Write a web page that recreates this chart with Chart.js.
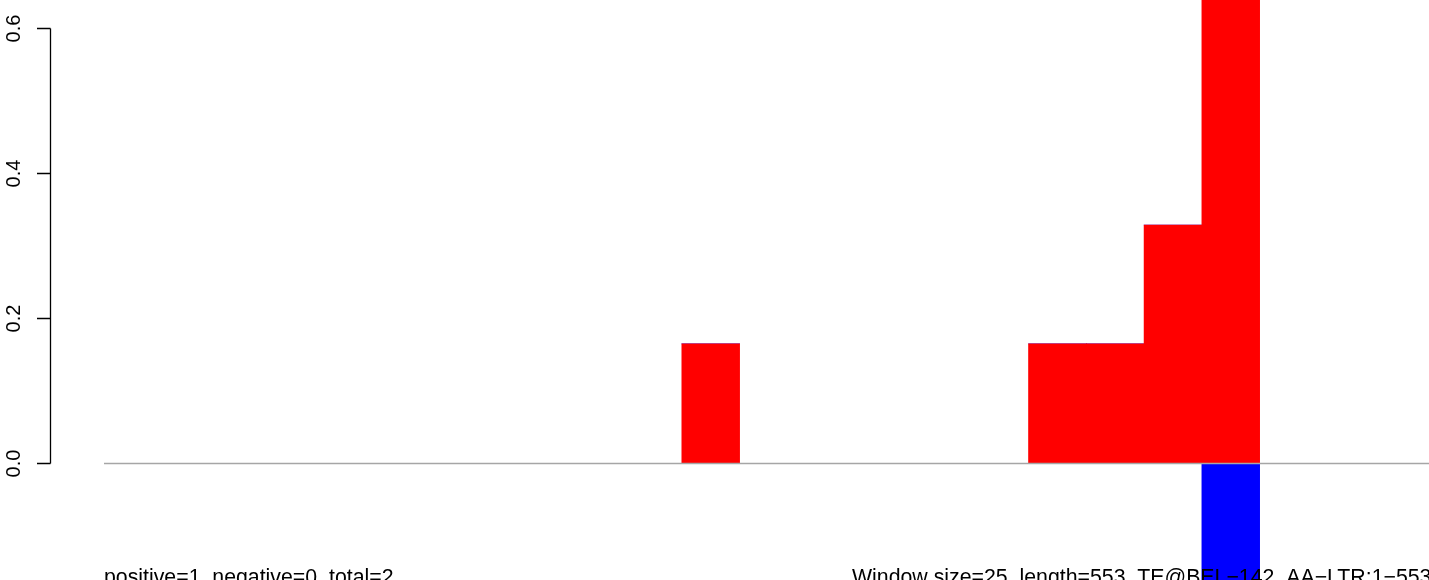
<!DOCTYPE html>
<html>
<head>
<meta charset="utf-8">
<script src="https://cdn.jsdelivr.net/npm/chart.js@4"></script>
<style>
  html, body { margin: 0; padding: 0; background: #fff; overflow: hidden; width: 1429px; height: 580px; }
</style>
</head>
<body>
<canvas id="myChart" width="1433" height="580"></canvas>
<script>
// window index along the element (23 windows of 25bp)
const windows = Array.from({ length: 23 }, (_, i) => String(i + 1));
const positiveValues = [0, 0, 0, 0, 0, 0, 0, 0, 0, 0, 0.165, 0, 0, 0, 0, 0, 0.165, 0.165, 0.329, 0.658, 0, 0, 0];
const negativeValues = [0, 0, 0, 0, 0, 0, 0, 0, 0, 0, 0, 0, 0, 0, 0, 0, 0, 0, 0, -0.329, 0, 0, 0];
const yTicks = [0.0, 0.2, 0.4, 0.6];
const leftNote = 'positive=1, negative=0, total=2';
const rightNote = 'Window size=25, length=553, TE@BEL\u2212142, AA\u2212LTR:1\u2212553';

const ctx = document.getElementById('myChart');

// R style axis, baseline and notes
const rStyle = {
  id: 'rStyle',
  afterDraw(chart) {
    const c = chart.ctx;
    const y = chart.scales.y;
    const area = chart.chartArea;
    c.save();

    // baseline at zero
    const y0 = y.getPixelForValue(0);
    c.strokeStyle = '#a6a6a6';
    c.lineWidth = 1.5;
    c.beginPath();
    c.moveTo(area.left, y0);
    c.lineTo(area.right, y0);
    c.stroke();

    // y axis
    const axisX = 50.5;
    const top = y.getPixelForValue(yTicks[yTicks.length - 1]);
    c.strokeStyle = '#000';
    c.lineWidth = 1.3;
    c.beginPath();
    c.moveTo(axisX, top);
    c.lineTo(axisX, y0);
    yTicks.forEach(function (t) {
      const py = y.getPixelForValue(t);
      c.moveTo(axisX, py);
      c.lineTo(axisX - 13.5, py);
    });
    c.stroke();

    c.fillStyle = '#000';
    c.font = '20px "Liberation Sans", Arial, sans-serif';
    c.textAlign = 'center';
    c.textBaseline = 'alphabetic';
    yTicks.forEach(function (t) {
      const py = y.getPixelForValue(t);
      c.save();
      c.translate(19.5, py);
      c.rotate(-Math.PI / 2);
      c.fillText(t.toFixed(1), 0, 0);
      c.restore();
    });

    // notes under the plot
    c.font = '21.3px "Liberation Sans", Arial, sans-serif';
    c.textAlign = 'left';
    c.fillText(leftNote, 104, 584);
    c.fillText(rightNote, 852, 584);
    c.restore();
  }
};

new Chart(ctx, {
  type: 'bar',
  data: {
    labels: windows,
    datasets: [{
      label: 'positive',
      data: positiveValues,
      backgroundColor: '#ff0000',
      borderWidth: 0
    }, {
      label: 'negative',
      data: negativeValues,
      backgroundColor: '#0000ff',
      borderWidth: 0
    }]
  },
  options: {
    responsive: false,
    animation: false,
    devicePixelRatio: 1,
    layout: { padding: { left: 104, right: 0, top: 0, bottom: 0 } },
    datasets: {
      bar: { barPercentage: 1, categoryPercentage: 1 }
    },
    plugins: {
      legend: { display: false },
      tooltip: { enabled: false },
      title: { display: false }
    },
    scales: {
      x: { display: false, stacked: true },
      y: {
        display: false,
        stacked: true,
        min: -0.1607,
        max: 0.6393
      }
    }
  },
  plugins: [rStyle]
});
</script>
</body>
</html>
